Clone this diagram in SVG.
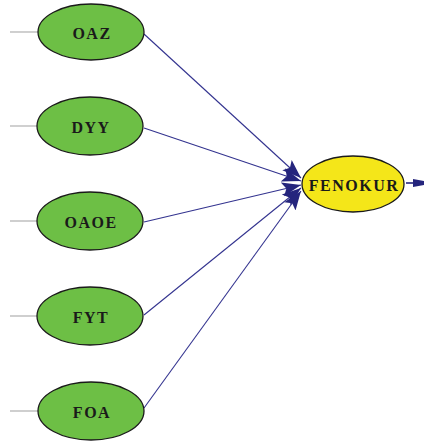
<svg xmlns="http://www.w3.org/2000/svg" width="425" height="443" viewBox="0 0 425 443">
<style>
.lat{fill:#6dbf45;stroke:#1a1a1a;stroke-width:1.3}
.end{fill:#f4e619;stroke:#1a1a1a;stroke-width:1.3}
.lbl{font-family:"Liberation Serif","Times New Roman",serif;font-size:16px;font-weight:bold;fill:#1a1a1a;letter-spacing:1.5px;text-anchor:middle;dominant-baseline:central}
.err{stroke:#b0b0b0;stroke-width:1.2}
.path{stroke:#33338f;stroke-width:1.1;fill:none;marker-end:url(#ah)}
</style>
<defs>
<marker id="ah" markerUnits="userSpaceOnUse" markerWidth="22" markerHeight="16" refX="19" refY="8" orient="auto">
<path d="M0,1 L19,8 L0,15 L4,8 Z" fill="#25257d"/>
</marker>
</defs>
<rect width="425" height="443" fill="#ffffff"/>
<g id="connectors">
<line class="err" x1="10" y1="32" x2="38" y2="32"/>
<line class="err" x1="10" y1="126" x2="37" y2="126"/>
<line class="err" x1="10" y1="221" x2="37" y2="221"/>
<line class="err" x1="10" y1="316" x2="37" y2="316"/>
<line class="err" x1="10" y1="411" x2="38" y2="411"/>
<line class="path" x1="144" y1="34" x2="301" y2="178"/>
<line class="path" x1="144" y1="128" x2="301" y2="181"/>
<line class="path" x1="144" y1="222" x2="301" y2="185"/>
<line class="path" x1="144" y1="315" x2="301" y2="188"/>
<line class="path" x1="144" y1="408" x2="301" y2="191"/>
<line x1="406" y1="183" x2="416" y2="183" stroke="#25257d" stroke-width="1.6"/>
<path d="M413,179 L424,181 L424,185 L413,187 Z" fill="#25257d"/>
</g>
<g id="OAZ"><ellipse class="lat" cx="91" cy="32" rx="53" ry="28"/><text class="lbl" x="92" y="33">OAZ</text></g>
<g id="DYY"><ellipse class="lat" cx="90" cy="126" rx="53" ry="29"/><text class="lbl" x="91" y="127">DYY</text></g>
<g id="OAOE"><ellipse class="lat" cx="90" cy="221" rx="53" ry="29"/><text class="lbl" x="91" y="222">OAOE</text></g>
<g id="FYT"><ellipse class="lat" cx="90" cy="316" rx="53" ry="29"/><text class="lbl" x="91" y="317">FYT</text></g>
<g id="FOA"><ellipse class="lat" cx="91" cy="411" rx="53" ry="29"/><text class="lbl" x="92" y="412">FOA</text></g>
<g id="FENOKUR"><ellipse class="end" cx="353" cy="184" rx="51" ry="28"/><text class="lbl" x="354" y="185">FENOKUR</text></g>
</svg>
